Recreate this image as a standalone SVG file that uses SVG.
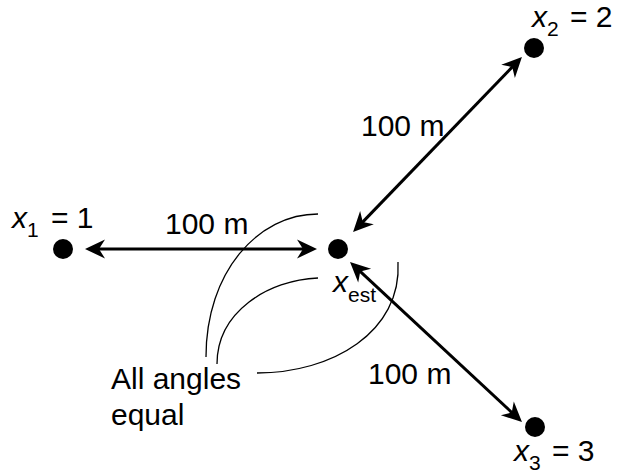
<svg xmlns="http://www.w3.org/2000/svg" width="617" height="474" viewBox="0 0 617 474">
  <style>
    text { font-family: "Liberation Sans", Arial, sans-serif; font-size: 30px; fill: #000; }
    .it { font-style: italic; }
    .sub { font-size: 21px; }
    .dot { fill: #000; }
    .arrow { stroke: #000; stroke-width: 3; fill: none; marker-start: url(#ah); marker-end: url(#ah); }
    .arc { stroke: #000; stroke-width: 1.3; fill: none; }
  </style>
  <defs>
    <marker id="ah" viewBox="-9 -10 22 20" refX="0" refY="0" markerWidth="22" markerHeight="20" markerUnits="userSpaceOnUse" orient="auto-start-reverse">
      <path d="M12,0 L-8,-9.5 L-2,0 L-8,9.5 Z" fill="#000"/>
    </marker>
  </defs>
  <rect width="617" height="474" fill="#fff"/>

  <g id="connectors">
    <line class="arrow" x1="97" y1="249" x2="305" y2="249"/>
    <line class="arrow" x1="361.4" y1="223.4" x2="513.6" y2="65.6"/>
    <line class="arrow" x1="358.8" y1="270.2" x2="513.2" y2="413.8"/>
  </g>

  <g id="angle-arcs">
    <path class="arc" d="M318,214 C258,214 206,272 206,357"/>
    <path class="arc" d="M318,278 C268,280 217,312 217,364"/>
    <path class="arc" d="M398,262 C402,332 332,373 257,373"/>
  </g>

  <g id="x1">
    <circle class="dot" cx="63" cy="249" r="10"/>
    <text x="12" y="228"><tspan class="it">x</tspan><tspan class="sub" x="27" y="237">1</tspan><tspan x="51" y="228">= 1</tspan></text>
  </g>

  <g id="x2">
    <circle class="dot" cx="534" cy="48" r="10"/>
    <text x="532" y="27"><tspan class="it">x</tspan><tspan class="sub" x="547" y="36">2</tspan><tspan x="570" y="27">= 2</tspan></text>
  </g>

  <g id="x3">
    <circle class="dot" cx="535" cy="427" r="10"/>
    <text x="514" y="461"><tspan class="it">x</tspan><tspan class="sub" x="529" y="470">3</tspan><tspan x="552" y="461">= 3</tspan></text>
  </g>

  <g id="xest">
    <circle class="dot" cx="338" cy="249" r="10"/>
    <text x="333" y="292"><tspan class="it">x</tspan><tspan class="sub" x="348" y="302">est</tspan></text>
  </g>

  <g id="labels">
    <text x="165" y="234">100 m</text>
    <text x="361" y="136">100 m</text>
    <text x="368" y="384">100 m</text>
    <text x="111" y="389">All angles</text>
    <text x="111" y="425">equal</text>
  </g>
</svg>
